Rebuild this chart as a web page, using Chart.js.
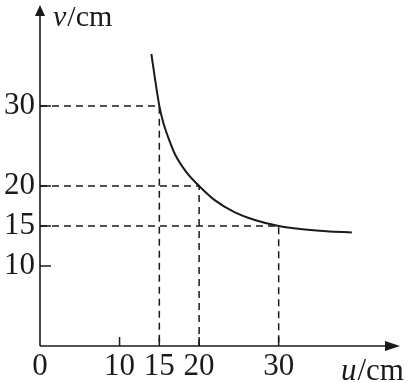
<!DOCTYPE html>
<html>
<head>
<meta charset="utf-8">
<script src="https://cdn.jsdelivr.net/npm/chart.js@4/dist/chart.umd.min.js"></script>
<style>
html,body{margin:0;padding:0;background:#fff;}
#wrap{width:414px;height:383px;position:relative;}
</style>
</head>
<body>
<div id="wrap"><canvas id="c" width="414" height="383"></canvas></div>
<script>
// Curve (u in cm, v in cm)
const curveU = [14.0, 14.5, 15.0, 15.5, 16.0, 17.0, 18.5, 20.0, 22.0, 24.5, 27.0, 30.0, 33.0, 36.0, 39.2];
const curveV = [36.5, 33.1, 30.0, 27.9, 26.4, 23.9, 21.6, 20.0, 18.2, 16.7, 15.75, 15.0, 14.6, 14.35, 14.2];
// Marked points with dashed guide lines
const markU = [15, 20, 30];
const markV = [30, 20, 15];
// Tick labels
const xTicks = [0, 10, 15, 20, 30];
const yTicks = [10, 15, 20, 30];
const xTitle = ['u', '/cm'];
const yTitle = ['v', '/cm'];

const FONT = "'Liberation Serif','Times New Roman',serif";
const INK = '#1a1a1a';

const datasets = [{
  data: curveU.map((u, i) => ({x: u, y: curveV[i]})),
  borderColor: INK, borderWidth: 2, pointRadius: 0,
  cubicInterpolationMode: 'monotone', fill: false
}];
markU.forEach((u, i) => {
  datasets.push({
    data: [{x: 0, y: markV[i]}, {x: u, y: markV[i]}, {x: u, y: 0}],
    borderColor: INK, borderWidth: 1.5, borderDash: [7, 5],
    pointRadius: 0, tension: 0, fill: false
  });
});

const axesPlugin = {
  id: 'axes',
  afterDatasetsDraw(chart) {
    const {ctx, chartArea: a, scales: {x, y}} = chart;
    const x0 = x.getPixelForValue(0), y0 = y.getPixelForValue(0);
    ctx.save();
    ctx.strokeStyle = INK; ctx.fillStyle = INK; ctx.lineWidth = 1.6;
    // y axis
    ctx.beginPath(); ctx.moveTo(x0, y0); ctx.lineTo(x0, a.top + 4); ctx.stroke();
    ctx.beginPath(); ctx.moveTo(x0, a.top - 5); ctx.lineTo(x0 - 5, a.top + 6); ctx.lineTo(x0 + 5, a.top + 6); ctx.closePath(); ctx.fill();
    // x axis
    ctx.beginPath(); ctx.moveTo(x0, y0); ctx.lineTo(a.right - 4, y0); ctx.stroke();
    ctx.beginPath(); ctx.moveTo(a.right + 2, y0); ctx.lineTo(a.right - 13, y0 - 5); ctx.lineTo(a.right - 13, y0 + 5); ctx.closePath(); ctx.fill();
    // tick marks
    ctx.lineWidth = 1.5;
    yTicks.forEach(v => { const py = y.getPixelForValue(v); ctx.beginPath(); ctx.moveTo(x0, py); ctx.lineTo(x0 + 11, py); ctx.stroke(); });
    xTicks.filter(v => v !== 0).forEach(v => { const px = x.getPixelForValue(v); ctx.beginPath(); ctx.moveTo(px, y0); ctx.lineTo(px, y0 - 9); ctx.stroke(); });
    // axis titles
    ctx.textBaseline = 'alphabetic'; ctx.textAlign = 'left';
    let tx = x0 + 13, ty = a.top + 16;
    ctx.font = 'italic 30px ' + FONT; ctx.fillText(yTitle[0], tx, ty); tx += ctx.measureText(yTitle[0]).width + 1;
    ctx.font = '30px ' + FONT; ctx.fillText(yTitle[1], tx, ty);
    tx = 341; ty = 380;
    ctx.font = 'italic 31px ' + FONT; ctx.fillText(xTitle[0], tx, ty); tx += ctx.measureText(xTitle[0]).width + 1;
    ctx.font = '31px ' + FONT; ctx.fillText(xTitle[1], tx, ty);
    ctx.restore();
  }
};

function fixPad(s) { s.paddingTop = 0; s.paddingBottom = 0; s.paddingLeft = 0; s.paddingRight = 0; }

new Chart(document.getElementById('c'), {
  type: 'line',
  data: {datasets},
  options: {
    responsive: false, animation: false,
    layout: {padding: {left: 0, top: 10, right: 16, bottom: 0}},
    plugins: {legend: {display: false}, tooltip: {enabled: false}},
    scales: {
      x: {
        type: 'linear', min: 0, max: 45,
        grid: {display: false, drawTicks: false, tickLength: 0}, border: {display: false},
        afterFit(s) { s.height = 37; fixPad(s); },
        afterBuildTicks(s) { s.ticks = xTicks.map(v => ({value: v})); },
        ticks: {color: INK, padding: 2, font: {family: FONT, size: 31}, maxRotation: 0, autoSkip: false, callback: v => String(v)}
      },
      y: {
        type: 'linear', min: 0, max: 42,
        grid: {display: false, drawTicks: false, tickLength: 0}, border: {display: false},
        afterFit(s) { s.width = 40; fixPad(s); },
        afterBuildTicks(s) { s.ticks = yTicks.map(v => ({value: v})); },
        ticks: {color: INK, padding: 5, font: {family: FONT, size: 31}, autoSkip: false, callback: v => String(v)}
      }
    }
  },
  plugins: [axesPlugin]
});
</script>
</body>
</html>
